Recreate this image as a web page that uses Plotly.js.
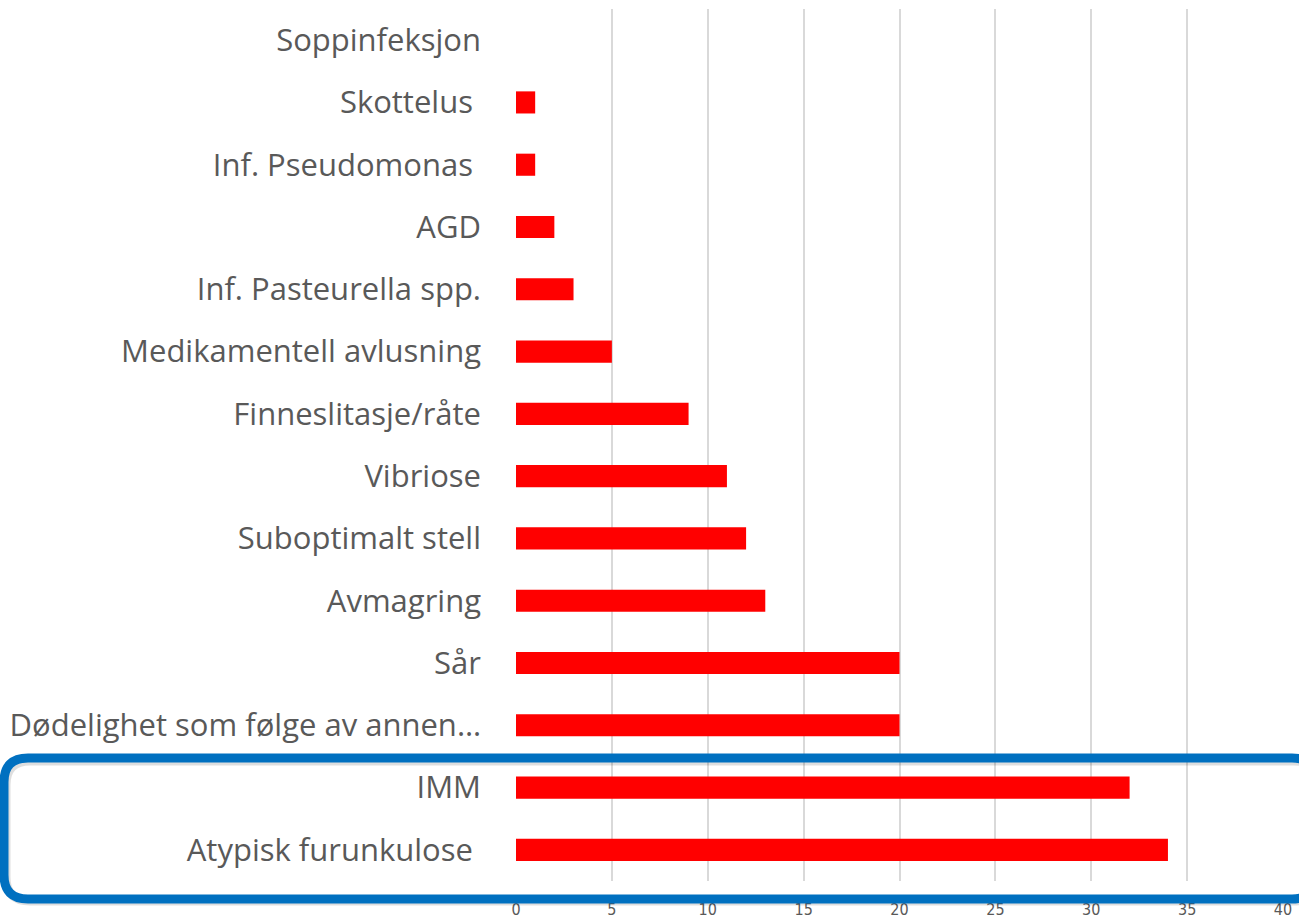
<!DOCTYPE html>
<html>
<head>
<meta charset="utf-8">
<script src="https://cdn.plot.ly/plotly-3.0.1.min.js"></script>
<style>
  html, body { margin: 0; padding: 0; background: #fff; }
  #chart { width: 1299px; height: 922px; }
</style>
</head>
<body>
<div id="chart"></div>
<script>
// Categories listed top to bottom, as in the picture
const categories = [
    "Soppinfeksjon",
    "Skottelus\u00a0",
    "Inf. Pseudomonas\u00a0",
    "AGD",
    "Inf. Pasteurella spp.",
    "Medikamentell avlusning",
    "Finneslitasje/råte",
    "Vibriose",
    "Suboptimalt stell",
    "Avmagring",
    "Sår",
    "Dødelighet som følge av annen…",
    "IMM",
    "Atypisk furunkulose\u00a0"
];
const counts = [0, 1, 1, 2, 3, 5, 9, 11, 12, 13, 20, 20, 32, 34];
const xTicks = [0, 5, 10, 15, 20, 25, 30, 35, 40];

// Rounded rectangle in pixels, relative to the bottom-left corner of the plot area
function roundedRect(x0, y0, x1, y1, r) {
    return `M ${x0 + r} ${y1} L ${x1 - r} ${y1} Q ${x1} ${y1} ${x1} ${y1 - r} ` +
        `L ${x1} ${y0 + r} Q ${x1} ${y0} ${x1 - r} ${y0} L ${x0 + r} ${y0} ` +
        `Q ${x0} ${y0} ${x0} ${y0 + r} L ${x0} ${y1 - r} Q ${x0} ${y1} ${x0 + r} ${y1} Z`;
}

const trace = {
    type: 'bar',
    orientation: 'h',
    x: counts,
    y: categories,
    marker: { color: '#FF0000', line: { width: 0 } },
    hoverinfo: 'x+y'
};

const frameShape = {
    type: 'path',
    xref: 'paper', yref: 'paper',
    xsizemode: 'pixel', ysizemode: 'pixel',
    xanchor: 0, yanchor: 0,
    path: roundedRect(-512, -18, 800, 123, 24),
    line: { color: '#0070C0', width: 9 },
    layer: 'above'
};
const shadowShape = Object.assign({}, frameShape, {
    path: roundedRect(-510, -20, 802, 120, 24),
    line: { color: 'rgba(0,0,0,0.13)', width: 9 },
    layer: 'above'
});

const layout = {
    width: 1299,
    height: 922,
    margin: { l: 516, r: 16, t: 9, b: 41 },
    paper_bgcolor: '#fff',
    plot_bgcolor: '#fff',
    showlegend: false,
    bargap: 0.645,
    font: { family: '"Open Sans", sans-serif', color: '#595959' },
    xaxis: {
        range: [0, 40],
        tickvals: xTicks,
        ticktext: xTicks.map(String),
        showgrid: true,
        gridcolor: '#D9D9D9',
        gridwidth: 2,
        zeroline: false,
        showline: false,
        ticks: '',
        ticklabelstandoff: 17,
        tickfont: { family: '"Liberation Sans Narrow", "DejaVu Sans Condensed", sans-serif', size: 16, color: '#595959' },
        fixedrange: true
    },
    yaxis: {
        type: 'category',
        categoryorder: 'array',
        categoryarray: categories,
        autorange: 'reversed',
        showgrid: false,
        zeroline: false,
        showline: false,
        ticks: '',
        ticklabelstandoff: 34,
        tickfont: { size: 31, color: '#595959' },
        fixedrange: true
    },
    shapes: [shadowShape, frameShape]
};

Plotly.newPlot('chart', [trace], layout, { displayModeBar: false, staticPlot: true });
</script>
</body>
</html>
